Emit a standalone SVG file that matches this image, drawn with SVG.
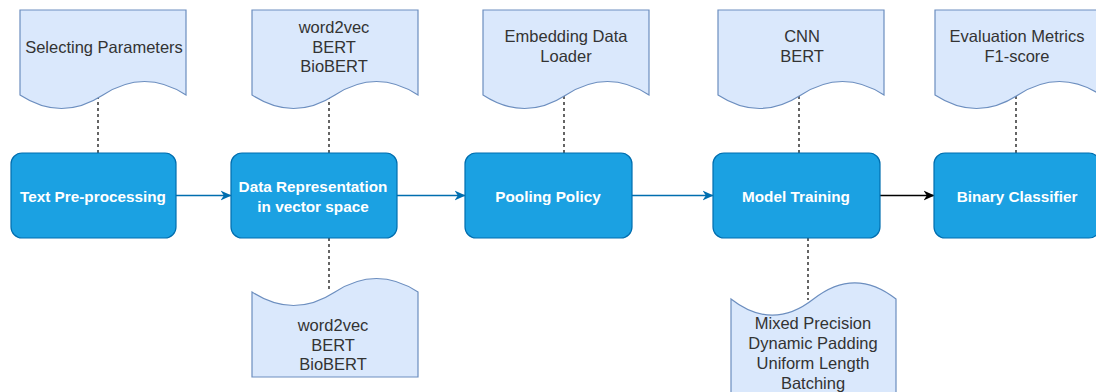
<svg xmlns="http://www.w3.org/2000/svg" width="1096" height="392" viewBox="0 0 1096 392">
<style>
.doc{fill:#dae8fc;stroke:#6c8ebf;stroke-width:1.2}
.box{fill:#1ba1e2;stroke:#006eaf;stroke-width:1.2}
.dt{font-family:"Liberation Sans",Arial,sans-serif;font-size:16.5px;fill:#333333;text-anchor:middle;dominant-baseline:central}
.bt{font-family:"Liberation Sans",Arial,sans-serif;font-size:15.3px;font-weight:bold;fill:#ffffff;text-anchor:middle;dominant-baseline:central}
.dash{stroke:#333333;stroke-width:1.5;stroke-dasharray:3 3;fill:none}
.blue{stroke:#006eaf;stroke-width:1.5;fill:none}
.black{stroke:#000000;stroke-width:1.5;fill:none}
</style>
<defs>
<marker id="ab" viewBox="0 0 10 10" refX="9.5" refY="5" markerWidth="11" markerHeight="11" markerUnits="userSpaceOnUse" orient="auto"><path d="M0 0.5 L10 5 L0 9.5 L3 5 Z" fill="#006eaf"/></marker>
<marker id="ak" viewBox="0 0 10 10" refX="9.5" refY="5" markerWidth="11" markerHeight="11" markerUnits="userSpaceOnUse" orient="auto"><path d="M0 0.5 L10 5 L0 9.5 L3 5 Z" fill="#000000"/></marker>
</defs>
<g id="connectors">
<line class="dash" x1="98" y1="96" x2="98" y2="153"/>
<line class="dash" x1="329" y1="96" x2="329" y2="153"/>
<line class="dash" x1="564" y1="96" x2="564" y2="153"/>
<line class="dash" x1="799" y1="96" x2="799" y2="153"/>
<line class="dash" x1="1016" y1="96" x2="1016" y2="153"/>
<line class="dash" x1="329" y1="238" x2="329" y2="292"/>
<line class="dash" x1="808" y1="238" x2="808" y2="300"/>
<line class="blue" x1="176" y1="195.5" x2="231" y2="195.5" marker-end="url(#ab)"/>
<line class="blue" x1="397" y1="195.5" x2="465" y2="195.5" marker-end="url(#ab)"/>
<line class="blue" x1="632" y1="195.5" x2="713" y2="195.5" marker-end="url(#ab)"/>
<line class="black" x1="880" y1="195.5" x2="934" y2="195.5" marker-end="url(#ak)"/>
</g>
<g id="doc1"><path class="doc" d="M20 10 H186 V95 Q144.5 68 103 95 Q61.5 122 20 95 Z"/><text class="dt" x="104" y="47">Selecting Parameters</text></g>
<g id="doc2"><path class="doc" d="M252 10 H418 V95 Q376.5 68 335 95 Q293.5 122 252 95 Z"/><text class="dt" x="334" y="27">word2vec</text><text class="dt" x="334" y="47">BERT</text><text class="dt" x="334" y="66">BioBERT</text></g>
<g id="doc3"><path class="doc" d="M483 10 H649 V95 Q607.5 68 566 95 Q524.5 122 483 95 Z"/><text class="dt" x="566" y="36">Embedding Data</text><text class="dt" x="566" y="56">Loader</text></g>
<g id="doc4"><path class="doc" d="M718 10 H884 V95 Q842.5 68 801 95 Q759.5 122 718 95 Z"/><text class="dt" x="802" y="36">CNN</text><text class="dt" x="802" y="56">BERT</text></g>
<g id="doc5"><path class="doc" d="M935 10 H1101 V95 Q1059.5 68 1018 95 Q976.5 122 935 95 Z"/><text class="dt" x="1017" y="36">Evaluation Metrics</text><text class="dt" x="1017" y="56">F1-score</text></g>
<g id="doc2b"><path class="doc" d="M252 377 H418 V292 Q376.5 265 335 292 Q293.5 319 252 292 Z"/><text class="dt" x="333" y="325">word2vec</text><text class="dt" x="333" y="345">BERT</text><text class="dt" x="333" y="364">BioBERT</text></g>
<g id="doc4b"><path class="doc" d="M731 401 H896 V299 Q854.75 266.6 813.5 299 Q772.25 331.4 731 299 Z"/><text class="dt" x="813" y="323">Mixed Precision</text><text class="dt" x="813" y="343">Dynamic Padding</text><text class="dt" x="813" y="363">Uniform Length</text><text class="dt" x="813" y="383">Batching</text></g>
<g id="box1"><rect class="box" x="11" y="153" width="165" height="85" rx="11"/><text class="bt" x="93" y="196">Text Pre-processing</text></g>
<g id="box2"><rect class="box" x="231" y="153" width="166" height="85" rx="11"/><text class="bt" x="313" y="186">Data Representation</text><text class="bt" x="313" y="206">in vector space</text></g>
<g id="box3"><rect class="box" x="465" y="153" width="167" height="85" rx="11"/><text class="bt" x="548" y="196">Pooling Policy</text></g>
<g id="box4"><rect class="box" x="713" y="153" width="167" height="85" rx="11"/><text class="bt" x="796" y="196">Model Training</text></g>
<g id="box5"><rect class="box" x="934" y="153" width="166" height="85" rx="11"/><text class="bt" x="1017" y="196">Binary Classifier</text></g>
</svg>
